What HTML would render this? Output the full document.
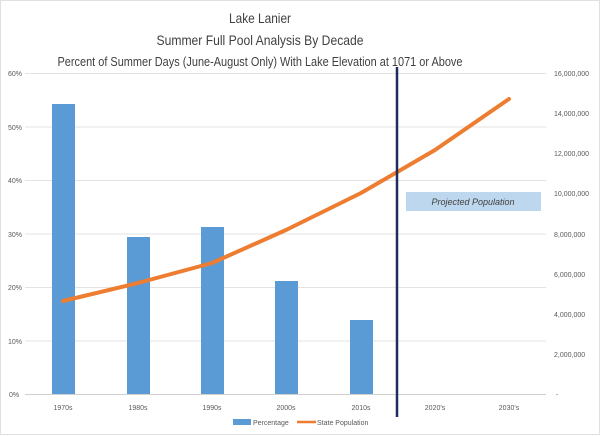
<!DOCTYPE html>
<html><head><meta charset="utf-8"><style>
body{margin:0;background:#fff}
svg{display:block;font-family:"Liberation Sans",sans-serif}
</style></head><body>
<svg width="600" height="436" viewBox="0 0 600 436">
<rect x="0.5" y="0.5" width="599" height="434" fill="#fff" stroke="#e0e0e0"/>
<g fill="#404040" text-anchor="middle">
<text x="260" y="23" font-size="14" textLength="62" lengthAdjust="spacingAndGlyphs">Lake Lanier</text>
<text x="260" y="45" font-size="14" textLength="207" lengthAdjust="spacingAndGlyphs">Summer Full Pool Analysis By Decade</text>
<text x="260" y="66" font-size="13" textLength="405" lengthAdjust="spacingAndGlyphs">Percent of Summer Days (June-August Only) With Lake Elevation at 1071 or Above</text>
</g>
<g stroke="#e3e3e3" stroke-width="1">
<line x1="25" x2="546" y1="73.5" y2="73.5"/><line x1="25" x2="546" y1="127" y2="127"/>
<line x1="25" x2="546" y1="180.5" y2="180.5"/><line x1="25" x2="546" y1="234" y2="234"/>
<line x1="25" x2="546" y1="287.5" y2="287.5"/><line x1="25" x2="546" y1="341" y2="341"/>
<line x1="25" x2="546" y1="394.5" y2="394.5" stroke="#d0d0d0"/>
</g>
<g font-size="7" fill="#595959" text-anchor="start">
<text x="8" y="76">60%</text><text x="8" y="130">50%</text><text x="8" y="183">40%</text>
<text x="8" y="237">30%</text><text x="8" y="290">20%</text><text x="8" y="344">10%</text><text x="9" y="397">0%</text>
</g>
<g font-size="7" fill="#595959" text-anchor="start">
<text x="554" y="76">16,000,000</text><text x="554" y="116">14,000,000</text><text x="554" y="156">12,000,000</text>
<text x="554" y="196">10,000,000</text><text x="554" y="237">8,000,000</text><text x="554" y="277">6,000,000</text>
<text x="554" y="317">4,000,000</text><text x="554" y="357">2,000,000</text><text x="556" y="397">-</text>
</g>
<g fill="#5b9bd5">
<rect x="52" y="104" width="23" height="290"/>
<rect x="127" y="237" width="23" height="157"/>
<rect x="201" y="227" width="23" height="167"/>
<rect x="275" y="281" width="23" height="113"/>
<rect x="350" y="320" width="23" height="74"/>
</g>
<g font-size="7" fill="#595959" text-anchor="middle">
<text x="63" y="410">1970s</text><text x="138" y="410">1980s</text><text x="212" y="410">1990s</text>
<text x="286" y="410">2000s</text><text x="361" y="410">2010s</text><text x="435" y="410">2020's</text><text x="509" y="410">2030's</text>
</g>
<polyline points="63,301 138,283 212,263 286,230 361,193 435,150 509,99" fill="none" stroke="#ed7d31" stroke-width="4" stroke-linejoin="round" stroke-linecap="round"/>
<line x1="397" x2="397" y1="67" y2="417" stroke="#1f2d5c" stroke-width="2.5"/>
<rect x="406" y="192" width="135" height="19" fill="#bdd7ee"/>
<text x="473" y="205" font-size="9" font-style="italic" fill="#404040" text-anchor="middle">Projected Population</text>
<rect x="233" y="419" width="18" height="6" fill="#5b9bd5"/>
<text x="253" y="425" font-size="7" fill="#595959">Percentage</text>
<line x1="297" x2="316" y1="422" y2="422" stroke="#ed7d31" stroke-width="2.5"/>
<text x="317" y="425" font-size="7" fill="#595959">State Population</text>
</svg>
</body></html>
